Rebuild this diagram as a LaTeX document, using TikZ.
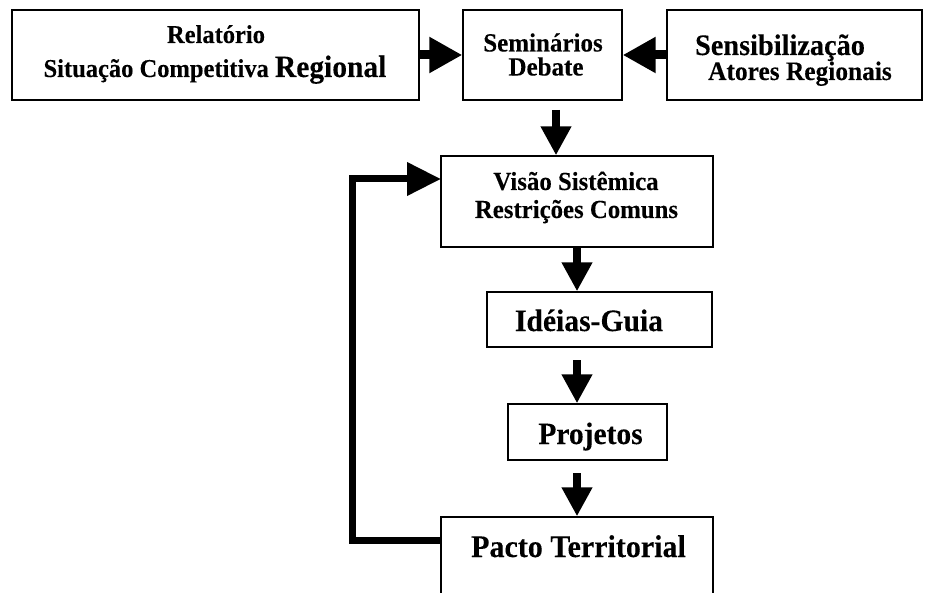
\documentclass[tikz,border=0pt]{standalone}
\usepackage{fontspec}
\setmainfont{Liberation Serif}[BoldFeatures={FakeBold=0.15}]
\usetikzlibrary{arrows.meta}

\newcommand{\fs}[1]{\fontsize{#1}{#1}\selectfont}
\newcommand{\tall}[1]{\scalebox{1}[1.05]{#1}}

\begin{document}
\begin{tikzpicture}[x=1pt,y=-1pt,
  box/.style={draw=black, line width=1.4pt, inner sep=0pt},
  lbl/.style={anchor=base, inner sep=0pt, font=\bfseries},
  harrow/.style={line width=9pt, -{Triangle[length=33pt,width=34pt]}},
  varrow/.style={line width=8pt, -{Triangle[length=29pt,width=29pt]}},
  loop/.style={line width=7pt, -{Triangle[length=34pt,width=32pt]}}]

\useasboundingbox (0,0) rectangle (925,593);
\clip (0,0) rectangle (925,593);

% boxes
\node[box, minimum width=407pt, minimum height=90pt] (rel) at (215.5,55) {};
\node[box, minimum width=159pt, minimum height=90pt] (sem) at (542.5,55) {};
\node[box, minimum width=255pt, minimum height=90pt] (sens) at (794.5,55) {};
\node[box, minimum width=272pt, minimum height=91pt] (visao) at (577,201.5) {};
\node[box, minimum width=225pt, minimum height=55pt] (ideias) at (599.5,319.5) {};
\node[box, minimum width=159pt, minimum height=56pt] (proj) at (587.5,432) {};
\node[box, minimum width=272pt, minimum height=100pt] (pacto) at (577,567) {};

% labels
\node[lbl] (t1) at (216,43) {\tall{\fs{24.5}Relatório}};
\node[lbl] (t2) at (215,77) {\tall{\fs{24.5}Situação Competitiva {\fs{29.5}Regional}}};
\node[lbl] (t3) at (543,51.5) {\tall{\fs{25}Seminários}};
\node[lbl] (t4) at (546,75.5) {\tall{\fs{25}Debate}};
\node[lbl] (t5) at (780,55) {\tall{\fs{28.3}Sensibilização}};
\node[lbl] (t6) at (800,80) {\tall{\fs{25.4}Atores Regionais}};
\node[lbl] (t7) at (576,190) {\tall{\fs{24.8}Visão Sistêmica}};
\node[lbl] (t8) at (576.5,218) {\tall{\fs{24.8}Restrições Comuns}};
\node[lbl] (t9) at (589,331) {\tall{\fs{29.6}Idéias-Guia}};
\node[lbl] (t10) at (590.5,444) {\tall{\fs{29.5}Projetos}};
\node[lbl] (t11) at (578.5,557) {\tall{\fs{30}Pacto Territorial}};

% connectors
\draw[harrow] (rel.east) -- (sem.west);
\draw[harrow] (sens.west) -- (sem.east);
\coordinate (s1) at (556,110);
\draw[varrow] (s1) -- (s1 |- visao.north);
\draw[varrow] (visao.south) -- (visao.south |- ideias.north);
\coordinate (s2) at (577,360);
\draw[varrow] (s2) -- (s2 |- proj.north);
\coordinate (s3) at (577,473);
\draw[varrow] (s3) -- (s3 |- pacto.north);

% feedback loop
\coordinate (fb1) at (441,540);
\coordinate (fb2) at (441,179);
\draw[loop] (fb1) -- (352,540) -- (352,179) -- (fb2);
\end{tikzpicture}
\end{document}
